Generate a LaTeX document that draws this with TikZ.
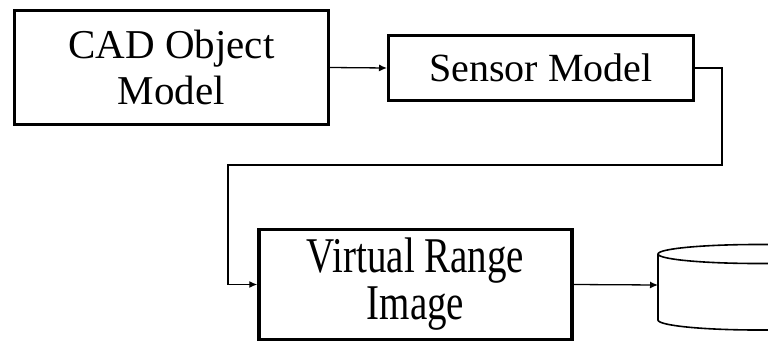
\documentclass[tikz,border=0pt]{standalone}
\usepackage{fontspec}
\setmainfont{Liberation Serif}
\newfontfamily\narrowserif[FakeStretch=0.78]{Liberation Serif}
\usetikzlibrary{arrows.meta}
\tikzset{
  block/.style={draw=black, line width=3pt, fill=white, inner sep=0pt, align=center},
  link/.style={draw=black, line width=1.3pt, -{Latex[length=8pt,width=7pt]}},
}
\begin{document}
\begin{tikzpicture}[x=1pt, y=-1pt]
  \useasboundingbox (0,0) rectangle (768,343);

  % process blocks
  \node[block, minimum width=314pt, minimum height=114pt,
        font=\fontsize{41}{46}\selectfont] (cad) at (171.5,67.5) {CAD Object\\Model};
  \node[block, minimum width=305pt, minimum height=65pt,
        font=\fontsize{40}{46}\selectfont] (sensor) at (541,68) {Sensor Model};
  \node[block, line width=3.5pt, minimum width=313pt, minimum height=110pt,
        font=\narrowserif\fontsize{50}{47}\selectfont] (virtual) at (415.5,284.5) {Virtual Range\\Image};

  % storage cylinder, running off the right edge
  \begin{scope}
    \clip (0,0) rectangle (768,343);
    \coordinate (db) at (658,285);
    \draw[line width=1.6pt, fill=white]
      (658,254) -- (658,320) arc[start angle=180, end angle=360, x radius=100pt, y radius=10pt]
      -- (858,254);
    \draw[line width=1.6pt] (758,254) ellipse[x radius=100pt, y radius=9.5pt];
  \end{scope}

  % connectors
  \coordinate (turnR) at (722,165);
  \coordinate (turnL) at (228,165);
  \draw[link] (cad.east) -- (sensor.west);
  \draw[link] (sensor.east) -| (turnR) -- (turnL) |- (virtual.west);
  \draw[link] (virtual.east) -- (db);
\end{tikzpicture}
\end{document}
